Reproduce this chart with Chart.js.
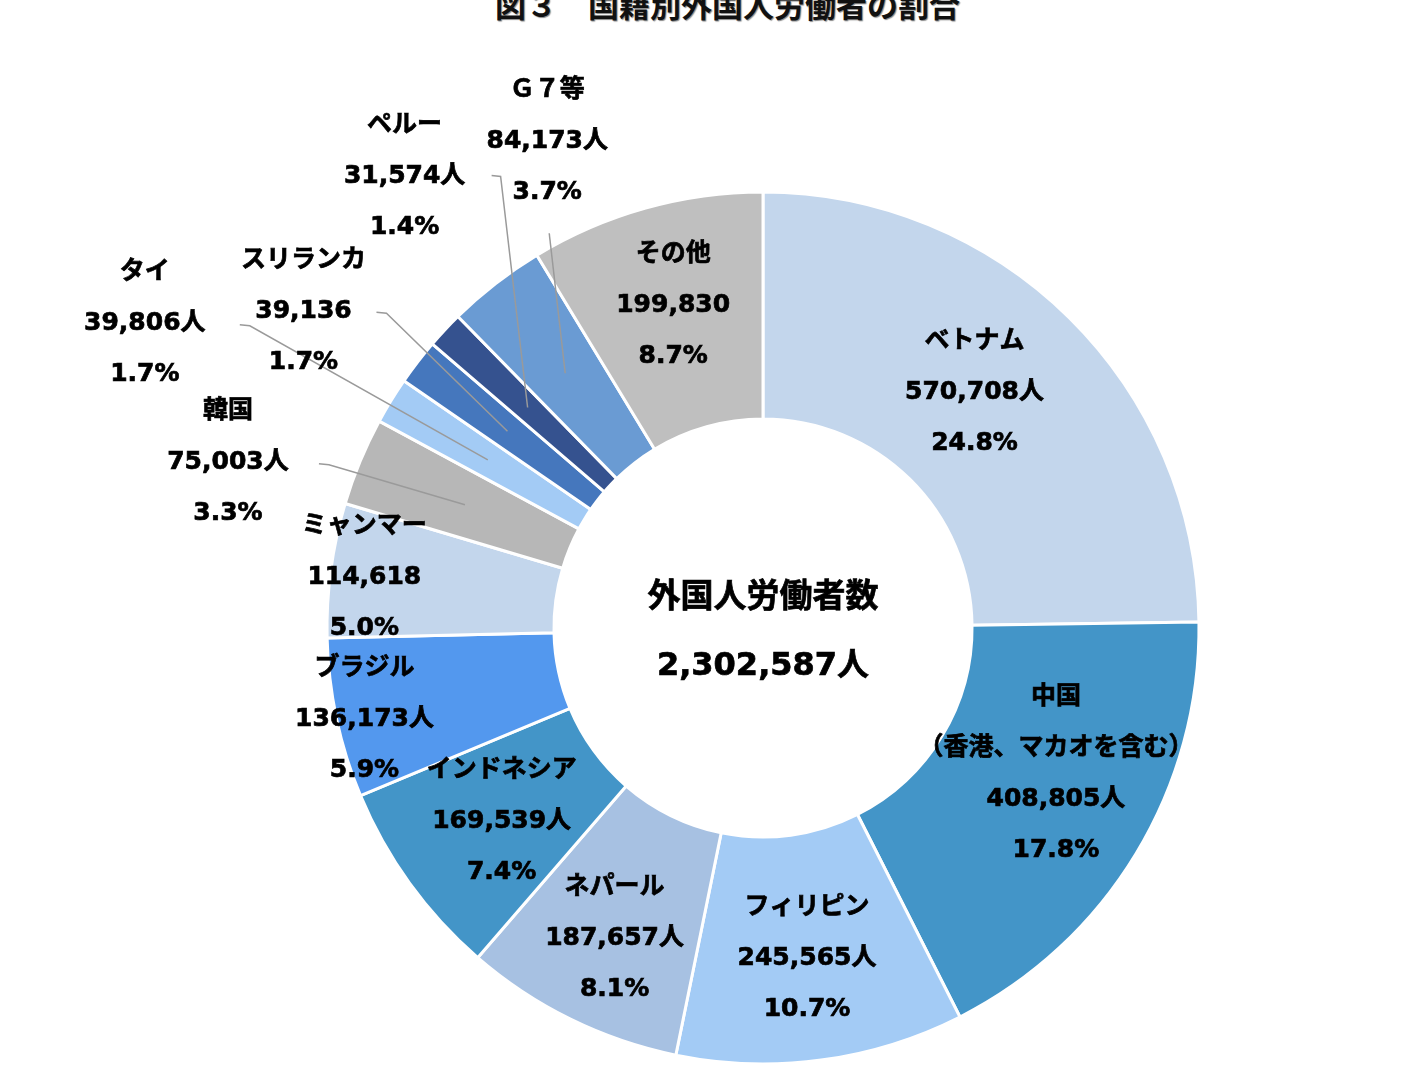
<!DOCTYPE html>
<html lang="ja">
<head>
<meta charset="utf-8">
<title>国籍別外国人労働者の割合</title>
<script src="https://cdn.jsdelivr.net/npm/chart.js@4"></script>
<style>
  html, body { margin: 0; padding: 0; background: #fff; }
  #wrap { position: relative; width: 1425px; height: 1080px; overflow: hidden; }
  #title {
    position: absolute; left: 0; width: 1455px; top: -19px; text-align: center;
    font: bold 31px "Noto Sans CJK JP", sans-serif; color: #111;
    text-shadow: 1px 1px 1px #888;
  }
  #c { position: absolute; left: 0; top: 0; }
</style>
</head>
<body>
<div id="wrap">
  <div id="title">図３　国籍別外国人労働者の割合</div>
  <canvas id="c" width="1425" height="1080"></canvas>
</div>
<script>
// ---- データ ----
const countries = ["ベトナム", "中国\n（香港、マカオを含む）", "フィリピン", "ネパール", "インドネシア",
  "ブラジル", "ミャンマー", "韓国", "タイ", "スリランカ", "ペルー", "Ｇ７等", "その他"];
const workers = [570708, 408805, 245565, 187657, 169539, 136173, 114618, 75003, 39806, 39136, 31574, 84173, 199830];
const unitSuffix = ["人", "人", "人", "人", "人", "人", "", "人", "人", "", "人", "人", ""];
const colors = ["#c3d6ec", "#4395c8", "#a3cbf5", "#a7c1e2", "#4395c8", "#5398ee", "#c3d6ec",
  "#b7b7b7", "#a3cbf5", "#4577bd", "#35528f", "#6a9bd3", "#bfbfbf"];
const centerTitle = "外国人労働者数";

// ラベル位置（扇形の中心からのずれ）と引き出し線
const labelShift = [[-15, -6], [17, -21], [1, 11], [-6, 21], [0, 5], [-83, 25], [-79, -8],
  [-237, -42], [-343, -136], [-204, -120], [-123, -231], [-18, -232], [-3, -12]];
const leaderStart = [null, null, null, null, null, null, null,
  [91, 1, 10], [95, 1, 10], [73, 1, 10], [87, -1, 9], [2, 92, 0], null];

const total = workers.reduce((a, b) => a + b, 0);

function boldText(ctx, t, x, y) {
  ctx.fillText(t, x, y);
  ctx.strokeText(t, x, y);
}

const labelPlugin = {
  id: "labels",
  afterDatasetsDraw(chart) {
    const ctx = chart.ctx;
    const meta = chart.getDatasetMeta(0);
    ctx.save();
    ctx.textAlign = "center";
    ctx.textBaseline = "middle";
    ctx.font = 'bold 25px "DejaVu Sans", "Noto Sans CJK JP", sans-serif';
    const lh = 51;

    meta.data.forEach((arc, i) => {
      const p = arc.tooltipPosition();
      const cx = p.x + labelShift[i][0];
      const cy = p.y + labelShift[i][1];
      const lines = countries[i].split("\n");
      lines.push(workers[i].toLocaleString("en-US") + unitSuffix[i]);
      lines.push((workers[i] / total * 100).toFixed(1) + "%");
      const y0 = cy - (lines.length - 1) * lh / 2;

      // 引き出し線
      const ls = leaderStart[i];
      if (ls) {
        ctx.strokeStyle = "#9a9a9a";
        ctx.lineWidth = 1.5;
        ctx.beginPath();
        ctx.moveTo(cx + ls[0], cy + ls[1]);
        ctx.lineTo(cx + ls[0] + ls[2], cy + ls[1] + (ls[2] ? 1 : 0));
        ctx.lineTo(p.x, p.y);
        ctx.stroke();
      }
      ctx.fillStyle = "#000";
      ctx.strokeStyle = "#000";
      ctx.lineWidth = 0.7;
      lines.forEach((t, k) => boldText(ctx, t, cx, y0 + k * lh));
    });

    // 中央の合計
    const c = meta.data[0];
    ctx.font = 'bold 33px "DejaVu Sans", "Noto Sans CJK JP", sans-serif';
    boldText(ctx, centerTitle, c.x, c.y - 30);
    ctx.font = 'bold 32px "DejaVu Sans", "Noto Sans CJK JP", sans-serif';
    boldText(ctx, total.toLocaleString("en-US") + "人", c.x, c.y + 39);
    ctx.restore();
  }
};

new Chart(document.getElementById("c"), {
  type: "doughnut",
  data: {
    labels: countries,
    datasets: [{
      data: workers,
      backgroundColor: colors,
      borderColor: "#ffffff",
      borderWidth: 3
    }]
  },
  options: {
    responsive: false,
    animation: false,
    radius: 436,
    cutout: 216,
    layout: { padding: { left: 101, right: 0, top: 176, bottom: 0 } },
    plugins: {
      legend: { display: false },
      tooltip: { enabled: false },
      title: { display: false }
    }
  },
  plugins: [labelPlugin]
});
</script>
</body>
</html>
